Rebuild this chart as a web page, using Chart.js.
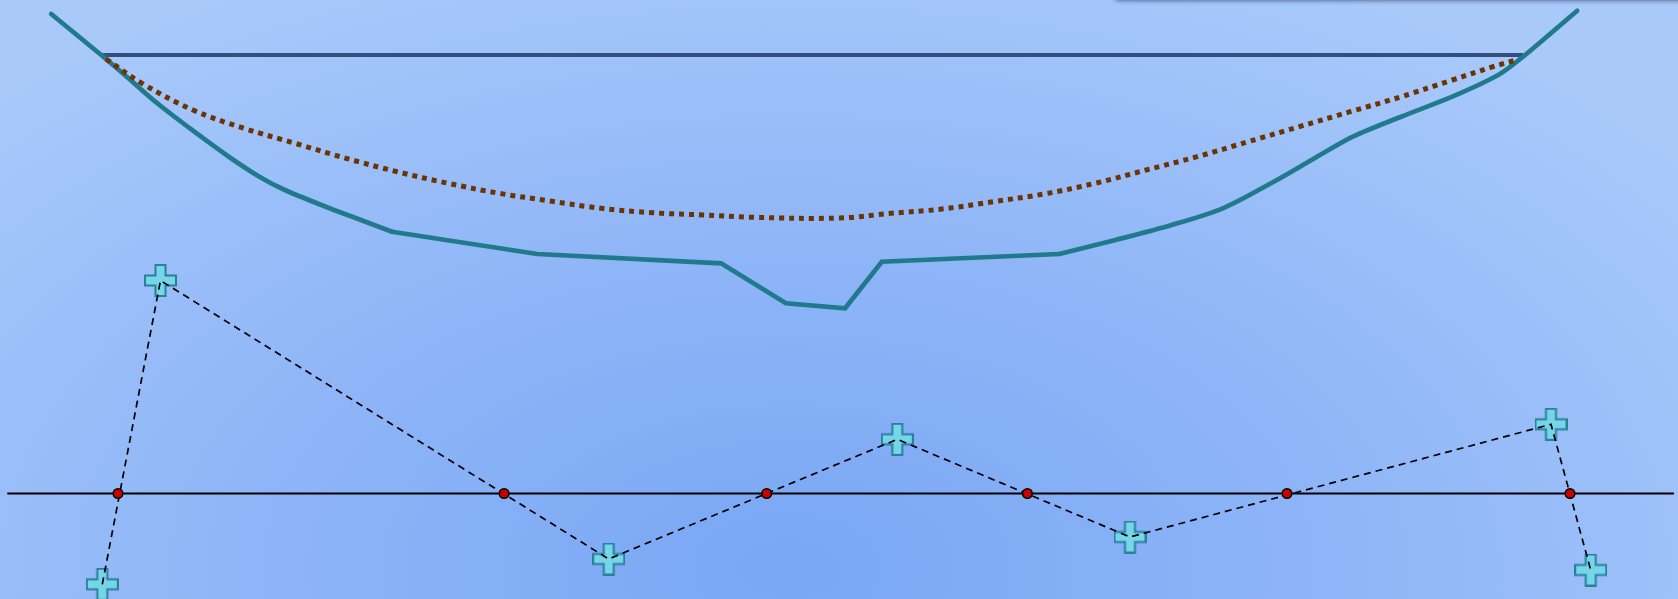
<!DOCTYPE html>
<html>
<head>
<meta charset="utf-8">
<script src="https://cdn.jsdelivr.net/npm/chart.js@4/dist/chart.umd.min.js"></script>
<style>
  html, body { margin: 0; padding: 0; overflow: hidden; }
  body {
    width: 1678px; height: 599px; position: relative;
    background: radial-gradient(ellipse 68% 110% at 47% 95%, #79a7f4 0%, #8db4f7 45%, #a8c9fa 100%);
  }
  #wrap { position: absolute; left: 0; top: 0; width: 1678px; height: 599px; }
  #shade {
    position: absolute; left: 1115px; top: -40px; width: 620px; height: 40px;
    background: #9dbff8; border-radius: 4px;
    box-shadow: 0 1px 4px rgba(20, 40, 80, 0.55);
  }
</style>
</head>
<body>
<div id="wrap"><canvas id="chart"></canvas></div>
<div id="shade"></div>
<script>
// ===============================
//  DATA (x = distance, y = level above the zero line)
// ===============================
// bed profile: left bank (curved), channel (straight pieces), right bank (curved)
const bankLX = [5.12, 10.12, 12.67, 15.73, 19.30, 22.88, 25.94, 28.49, 32.57, 35.63, 39.20];
const bankLY = [47.95, 43.85, 41.68, 39.02, 36.28, 33.68, 31.68, 30.35, 28.68, 27.52, 26.18];

const channelX = [39.20, 53.74, 72.11, 78.59, 84.51, 88.18, 105.94];
const channelY = [26.18, 23.95, 23.02, 19.02, 18.52, 23.18, 23.95];

const bankRX = [105.94, 111.55, 117.16, 122.27, 127.37, 131.45, 135.28, 140.12, 145.22,
  149.82, 152.11, 157.72];
const bankRY = [23.95, 25.35, 26.85, 28.52, 31.18, 33.52, 35.68, 37.68, 39.68,
  41.85, 43.52, 48.28];

const fitX = [10.6, 14.2, 19.3, 24.4, 29.51, 34.61, 39.71, 44.82, 49.92, 55.02,
  60.12, 65.22, 70.33, 75.43, 84.0, 89.1, 94.2, 99.3, 104.4, 109.51, 114.61, 119.71,
  124.82, 129.92, 135.02, 140.12, 145.22, 149.3, 151.86];
const fitY = [43.45, 41.02, 38.35, 36.52, 35.02, 33.52, 32.18, 31.02, 30.02, 29.25,
  28.52, 28.08, 27.85, 27.62, 27.55, 28.02, 28.45, 29.18, 29.95, 31.02, 32.35, 33.68,
  35.18, 36.68, 38.18, 39.68, 41.35, 42.68, 43.42];

const waterX = [10.17, 152.3];
const waterY = [43.85, 43.85];

const residX = [10.23, 16.05, 60.87, 89.73, 113.0, 155.1, 159.07];
const residY = [-9.08, 21.30, -6.55, 5.42, -4.35, 6.92, -7.65];

const crossX = [11.8, 50.41, 76.67, 102.74, 128.7, 157.0];

const zeroX = [0.73, 167.4];

const xRange = [0, 167.8];
const yRange = [-10.55, 49.35];

const pts = (xs, ys) => xs.map((x, i) => ({ x: x, y: ys[i] }));

// fat plus marker
function makePlus() {
  const s = 33, m = 1, arm = 10;
  const a = (s - arm) / 2, b = a + arm;
  const c = document.createElement("canvas");
  c.width = s; c.height = s;
  const g = c.getContext("2d");
  g.beginPath();
  g.moveTo(a, m); g.lineTo(b, m); g.lineTo(b, a); g.lineTo(s - m, a);
  g.lineTo(s - m, b); g.lineTo(b, b); g.lineTo(b, s - m); g.lineTo(a, s - m);
  g.lineTo(a, b); g.lineTo(m, b); g.lineTo(m, a); g.lineTo(a, a);
  g.closePath();
  g.fillStyle = "#76d6e9";
  g.fill();
  g.lineWidth = 2;
  g.strokeStyle = "#2a7f9b";
  g.stroke();
  return c;
}

const line = (data, color, width, extra) => Object.assign({
  data: data, showLine: true, borderColor: color, borderWidth: width,
  pointRadius: 0, tension: 0, fill: false, clip: false
}, extra);

const BED = "#207a8c";

new Chart(document.getElementById("chart"), {
  type: "scatter",
  data: {
    datasets: [
      line(pts(waterX, waterY), "#31507f", 4, { order: 8 }),
      line(pts(bankLX, bankLY), BED, 4.7, { order: 7, tension: 0.3, borderCapStyle: "round" }),
      line(pts(channelX, channelY), BED, 4.7, { order: 6, borderJoinStyle: "miter", borderCapStyle: "round" }),
      line(pts(bankRX, bankRY), BED, 4.7, { order: 5, tension: 0.3, borderCapStyle: "round" }),
      line(pts(fitX, fitY), "#6b3400", 5, { order: 4, tension: 0.4, borderDash: [5, 5] }),
      line(zeroX.map(x => ({ x: x, y: 0 })), "#000000", 1.8, { order: 3 }),
      {
        data: pts(residX, residY), showLine: false, order: 2, clip: false,
        pointStyle: makePlus(), pointRadius: 16
      },
      line(pts(residX, residY), "#000000", 1.7, { order: 1, borderDash: [7, 5] }),
      {
        data: crossX.map(x => ({ x: x, y: 0 })), showLine: false, order: 0, clip: false,
        pointRadius: 4.8, pointBackgroundColor: "#c80000",
        pointBorderColor: "#000000", pointBorderWidth: 1.5
      }
    ]
  },
  options: {
    responsive: true,
    maintainAspectRatio: false,
    animation: false,
    layout: { padding: 0, autoPadding: false },
    plugins: { legend: { display: false }, tooltip: { enabled: false } },
    scales: {
      x: { type: "linear", display: false, min: xRange[0], max: xRange[1] },
      y: { type: "linear", display: false, min: yRange[0], max: yRange[1] }
    }
  }
});
</script>
</body>
</html>
